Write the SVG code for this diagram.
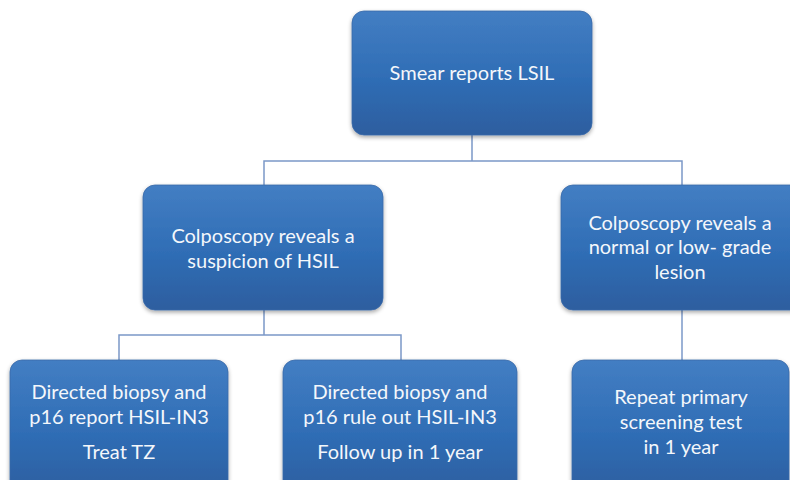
<svg xmlns="http://www.w3.org/2000/svg" width="790" height="480" viewBox="0 0 790 480">
<defs>
<linearGradient id="g" x1="0" y1="0" x2="0" y2="1">
<stop offset="0" stop-color="#437ec3"/>
<stop offset="0.55" stop-color="#2f6db5"/>
<stop offset="1" stop-color="#2d5e9f"/>
</linearGradient>
<filter id="sh" x="-10%" y="-10%" width="120%" height="130%">
<feGaussianBlur in="SourceAlpha" stdDeviation="2"/>
<feOffset dx="0" dy="2" result="b"/>
<feComponentTransfer><feFuncA type="linear" slope="0.35"/></feComponentTransfer>
<feMerge><feMergeNode/><feMergeNode in="SourceGraphic"/></feMerge>
</filter>
</defs>
<style>
.box{fill:url(#g);stroke:#3a6aa8;stroke-width:0.8;filter:url(#sh)}
.t{font-family:Lato,"Liberation Sans",sans-serif;font-size:20px;fill:#f4f7fb;text-anchor:middle}
.c{fill:none;stroke:#7b98c8;stroke-width:1.5}
</style>
<g id="connectors">
<path class="c" d="M472 135 V161 M264 185 V161 H682 V185"/>
<path class="c" d="M264 310 V335 M119 360 V335 H401 V360"/>
<path class="c" d="M682 310 V360"/>
</g>
<g id="n1">
<rect class="box" x="352" y="11" width="240" height="124" rx="12"/>
<text class="t" x="472" y="80">Smear reports LSIL</text>
</g>
<g id="n2">
<rect class="box" x="143" y="185" width="240" height="125" rx="12"/>
<text class="t" x="263" y="243">Colposcopy reveals a</text>
<text class="t" x="263" y="268">suspicion of HSIL</text>
</g>
<g id="n3">
<rect class="box" x="561" y="185" width="245" height="125" rx="12"/>
<text class="t" x="680" y="230">Colposcopy reveals a</text>
<text class="t" x="680" y="254">normal or low- grade</text>
<text class="t" x="680" y="279">lesion</text>
</g>
<g id="n4">
<rect class="box" x="10" y="360" width="218" height="135" rx="12"/>
<text class="t" x="119" y="399">Directed biopsy and</text>
<text class="t" x="119" y="424">p16 report HSIL-IN3</text>
<text class="t" x="119" y="459">Treat TZ</text>
</g>
<g id="n5">
<rect class="box" x="283" y="360" width="234" height="135" rx="12"/>
<text class="t" x="400" y="399">Directed biopsy and</text>
<text class="t" x="400" y="424">p16 rule out HSIL-IN3</text>
<text class="t" x="400" y="459">Follow up in 1 year</text>
</g>
<g id="n6">
<rect class="box" x="572" y="360" width="217" height="135" rx="12"/>
<text class="t" x="681" y="404">Repeat primary</text>
<text class="t" x="681" y="429">screening test</text>
<text class="t" x="681" y="454">in 1 year</text>
</g>
</svg>
